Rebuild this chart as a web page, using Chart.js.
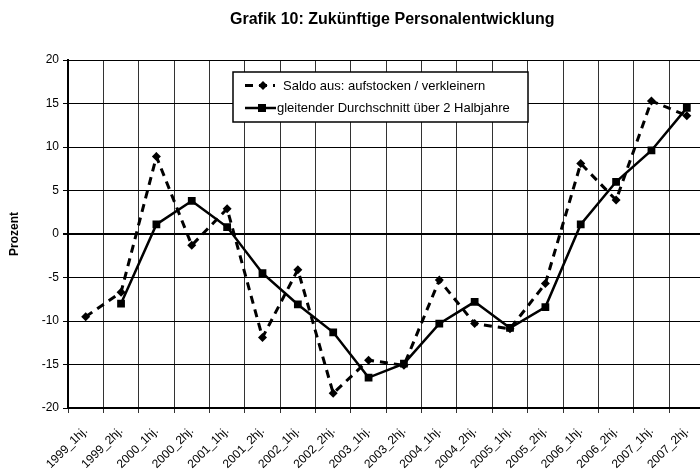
<!DOCTYPE html>
<html>
<head>
<meta charset="utf-8">
<title>Grafik 10</title>
<script src="https://cdn.jsdelivr.net/npm/chart.js@4.4.0/dist/chart.umd.min.js"></script>
<style>
  html, body { margin: 0; padding: 0; background: #fff; overflow: hidden; }
  canvas { display: block; }
</style>
</head>
<body>
<canvas id="chart" width="710" height="470"></canvas>
<script>
/* Grafik 10 — Zukünftige Personalentwicklung */

const FONT = '"Liberation Sans", Arial, Helvetica, sans-serif';

// --- Data ---

const halbjahre = [
    '1999_1hj.', '1999_2hj.', '2000_1hj.', '2000_2hj.', '2001_1hj.', '2001_2hj.',
    '2002_1hj.', '2002_2hj.', '2003_1hj.', '2003_2hj.', '2004_1hj.', '2004_2hj.',
    '2005_1hj.', '2005_2hj.', '2006_1hj.', '2006_2hj.', '2007_1hj.', '2007_2hj.'
];

// Saldo aus: aufstocken / verkleinern
const saldo = [-9.5, -6.7, 8.9, -1.3, 2.9, -11.9, -4.1, -18.3, -14.5, -15.1, -5.3, -10.3, -10.9, -5.7, 8.1, 3.9, 15.3, 13.6];

// gleitender Durchschnitt über 2 Halbjahre
const durchschnitt = [null, -8.0, 1.1, 3.8, 0.8, -4.5, -8.1, -11.3, -16.5, -14.9, -10.3, -7.8, -10.8, -8.4, 1.1, 6.0, 9.6, 14.5];

const yMin = -20;
const yMax = 20;
const yStep = 5;

const legendLabels = ['Saldo aus: aufstocken / verkleinern', 'gleitender Durchschnitt über 2 Halbjahre'];
const chartTitle = 'Grafik 10: Zukünftige Personalentwicklung';

// --- Title + Excel-style legend box ---

const decorations = {
    id: 'decorations',
    afterDraw(chart) {
        const ctx = chart.ctx;
        const area = chart.chartArea;
        ctx.save();

        ctx.fillStyle = '#000';
        ctx.font = 'bold 16px ' + FONT;
        ctx.textAlign = 'center';
        ctx.textBaseline = 'middle';
        ctx.fillText(chartTitle, (area.left + area.right) / 2 + 6, 20);

        // legend box
        ctx.fillStyle = '#fff';
        ctx.fillRect(233, 72, 295, 50);
        ctx.strokeStyle = '#000';
        ctx.lineWidth = 1.5;
        ctx.strokeRect(233, 72, 295, 50);

        // row 1: dashed line with diamond
        ctx.strokeStyle = '#000';
        ctx.fillStyle = '#000';
        ctx.lineWidth = 3;
        ctx.setLineDash([8, 6]);
        ctx.beginPath();
        ctx.moveTo(245, 85.5);
        ctx.lineTo(275, 85.5);
        ctx.stroke();
        ctx.setLineDash([]);
        ctx.beginPath();
        ctx.moveTo(263, 81);
        ctx.lineTo(267.5, 85.5);
        ctx.lineTo(263, 90);
        ctx.lineTo(258.5, 85.5);
        ctx.closePath();
        ctx.fill();

        // row 2: solid line with square
        ctx.lineWidth = 2.5;
        ctx.beginPath();
        ctx.moveTo(245, 108);
        ctx.lineTo(276, 108);
        ctx.stroke();
        ctx.fillRect(258, 104, 8, 8);

        ctx.font = '13px ' + FONT;
        ctx.textAlign = 'left';
        ctx.fillText(legendLabels[0], 283, 86);
        ctx.fillText(legendLabels[1], 277, 108.5);

        ctx.restore();
    }
};

// --- Chart ---

new Chart(document.getElementById('chart'), {
    type: 'line',
    data: {
        labels: halbjahre,
        datasets: [
            {
                label: legendLabels[1],
                data: durchschnitt,
                borderColor: '#000',
                backgroundColor: '#000',
                borderWidth: 2.5,
                pointStyle: 'rect',
                pointRadius: 5.5,
                pointBorderWidth: 0,
                pointBackgroundColor: '#000',
                tension: 0,
            },
            {
                label: legendLabels[0],
                data: saldo,
                borderColor: '#000',
                backgroundColor: '#000',
                borderWidth: 3,
                borderDash: [8, 6],
                pointStyle: 'rectRot',
                pointRadius: 4.5,
                pointBorderWidth: 0,
                pointBackgroundColor: '#000',
                tension: 0,
            }
        ]
    },
    options: {
        responsive: false,
        animation: false,
        devicePixelRatio: 1,
        layout: { padding: { top: 60, left: 0, right: 0, bottom: 0 } },
        plugins: {
            legend: { display: false },
            tooltip: { enabled: false },
            title: { display: false },
        },
        scales: {
            x: {
                offset: true,
                grid: { offset: true, color: '#333', lineWidth: 1, tickLength: 5, drawTicks: true },
                border: { color: '#000', width: 2 },
                ticks: {
                    autoSkip: false,
                    minRotation: 45,
                    maxRotation: 45,
                    color: '#000',
                    padding: 11,
                    font: { family: FONT, size: 12 },
                },
                afterFit(scale) {
                    scale.height = 62;
                    scale.paddingLeft = 0;
                    scale.paddingRight = 0;
                },
            },
            y: {
                min: yMin,
                max: yMax,
                ticks: {
                    stepSize: yStep,
                    color: '#000',
                    padding: 4,
                    font: { family: FONT, size: 12 },
                },
                grid: {
                    color: '#000',
                    lineWidth: c => (c.tick && c.tick.value === 0 ? 2 : 1),
                    tickLength: 5,
                },
                border: { color: '#000', width: 2 },
                title: {
                    display: true,
                    text: 'Prozent',
                    color: '#000',
                    padding: { top: 7, bottom: 0 },
                    font: { family: FONT, size: 12, weight: 'bold' },
                },
                afterFit(scale) {
                    scale.width = 68;
                    scale.paddingTop = 0;
                    scale.paddingBottom = 0;
                },
            }
        }
    },
    plugins: [decorations]
});
</script>
</body>
</html>
